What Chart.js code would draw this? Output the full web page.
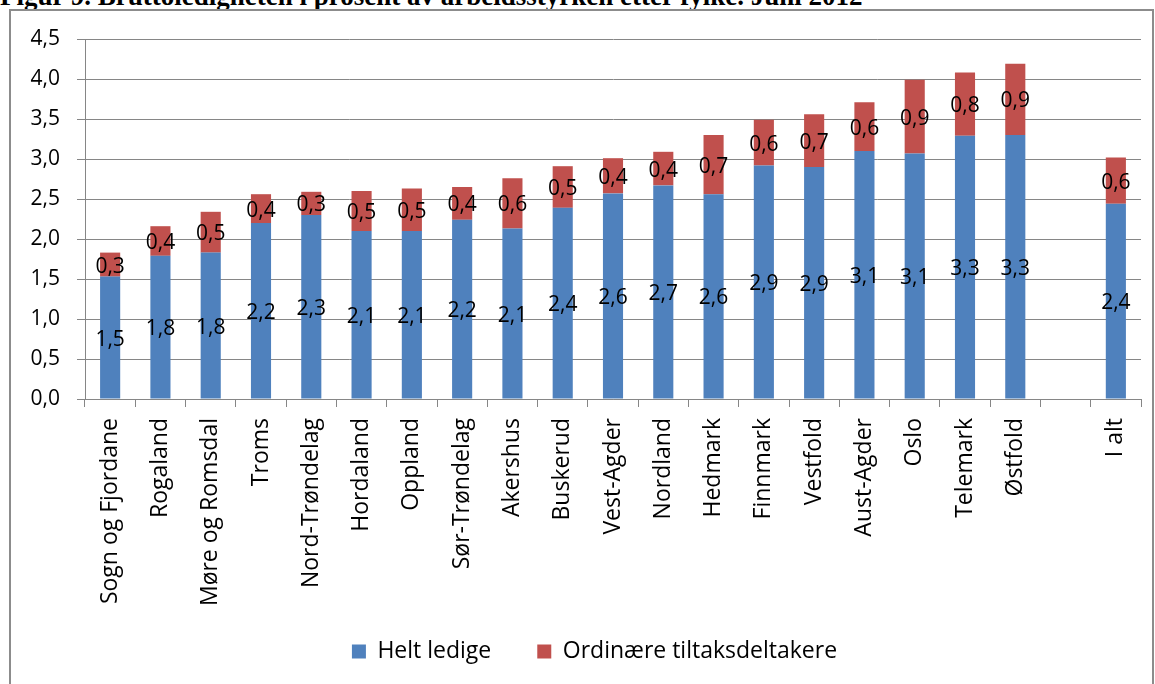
<!DOCTYPE html>
<html>
<head>
<meta charset="utf-8">
<script src="https://cdn.jsdelivr.net/npm/chart.js@4.4.1/dist/chart.umd.min.js"></script>
<style>
  body { margin: 0; background: #fff; overflow: hidden; width: 1155px; height: 684px; position: relative; }
  #title { position: absolute; left: 0; top: -19px; font: bold 27px "Liberation Serif", "Times New Roman", serif; line-height: 31px; white-space: nowrap; color: #000; }
  #frame { position: absolute; left: 9px; top: 9px; width: 1141px; height: 700px; border: 2px solid #8c8c8c; }
  #chart { position: absolute; left: 0; top: 0; }
</style>
</head>
<body>
<div id="title">Figur 9. Bruttoledigheten i prosent av arbeidsstyrken etter fylke. Juni 2012</div>
<div id="frame"></div>
<canvas id="chart" width="1155" height="690"></canvas>
<script>
// fylker, sortert etter bruttoledighet (tom plass før "I alt")
const fylker = ['Sogn og Fjordane', 'Rogaland', 'Møre og Romsdal', 'Troms', 'Nord-Trøndelag',
  'Hordaland', 'Oppland', 'Sør-Trøndelag', 'Akershus', 'Buskerud', 'Vest-Agder', 'Nordland',
  'Hedmark', 'Finnmark', 'Vestfold', 'Aust-Agder', 'Oslo', 'Telemark', 'Østfold', '', 'I alt']

// prosent av arbeidsstyrken
const heltLedige = [1.53, 1.79, 1.83, 2.20, 2.30, 2.10, 2.10, 2.24, 2.13, 2.39, 2.57, 2.67,
  2.56, 2.92, 2.90, 3.10, 3.07, 3.29, 3.30, null, 2.44]
const tiltak = [0.30, 0.37, 0.51, 0.36, 0.29, 0.50, 0.53, 0.41, 0.63, 0.52, 0.44, 0.42,
  0.74, 0.57, 0.66, 0.61, 0.92, 0.79, 0.89, null, 0.58]

const yTicks = [0, 0.5, 1, 1.5, 2, 2.5, 3, 3.5, 4, 4.5]

const font = '"Open Sans", sans-serif'
const gridColor = '#868686'
const komma = v => v.toFixed(1).replace('.', ',')

// verdier midt i hver stabel, som i Excel
const barText = {
  id: 'barText',
  afterDatasetsDraw(chart) {
    const ctx = chart.ctx
    ctx.save()
    ctx.font = '21px ' + font
    ctx.fillStyle = '#000'
    ctx.textAlign = 'center'
    ctx.textBaseline = 'middle'
    chart.data.datasets.forEach((ds, i) => {
      chart.getDatasetMeta(i).data.forEach((bar, j) => {
        const v = ds.data[j]
        if (v == null) return
        ctx.fillText(komma(v), bar.x, (bar.y + bar.base) / 2 + 2)
      })
    })
    ctx.restore()
  },
}

// legenden står litt til høyre for midten og litt opp i aksetekstene
const legendShift = {
  id: 'legendShift',
  afterLayout(chart) {
    chart.legend.left += 38
    chart.legend.top -= 17
  },
}

const config = {
  type: 'bar',
  data: {
    labels: fylker,
    datasets: [
      { label: 'Helt ledige', data: heltLedige, backgroundColor: '#4f81bd' },
      { label: 'Ordinære tiltaksdeltakere', data: tiltak, backgroundColor: '#c0504d' },
    ],
  },
  options: {
    responsive: false,
    animation: false,
    devicePixelRatio: 1,
    categoryPercentage: 1,
    barPercentage: 0.4,
    layout: { padding: { left: 10, right: 14, top: 39, bottom: 0 } },
    plugins: {
      legend: {
        position: 'bottom',
        labels: {
          boxWidth: 14,
          boxHeight: 14,
          padding: 46,
          color: '#000',
          font: { family: font, size: 23 },
        },
      },
      tooltip: { enabled: false },
    },
    scales: {
      x: {
        stacked: true,
        grid: { drawOnChartArea: false, drawTicks: true, tickLength: 8, color: gridColor, offset: true },
        border: { color: gridColor },
        ticks: { minRotation: 90, maxRotation: 90, autoSkip: false, padding: 11, color: '#000', font: { family: font, size: 23 } },
        afterFit: s => { s.height = 212 },
      },
      y: {
        stacked: true,
        min: 0,
        max: 4.5,
        afterBuildTicks: s => { s.ticks = yTicks.map(v => ({ value: v })) },
        grid: { color: gridColor, tickLength: 8 },
        border: { color: gridColor },
        ticks: { padding: 17, color: '#000', font: { family: font, size: 21 }, callback: v => komma(v) },
        afterFit: s => { s.width = 75 },
      },
    },
  },
  plugins: [barText, legendShift],
}

const ctx = document.getElementById('chart')
window.myBar = new Chart(ctx, config)
</script>
</body>
</html>
